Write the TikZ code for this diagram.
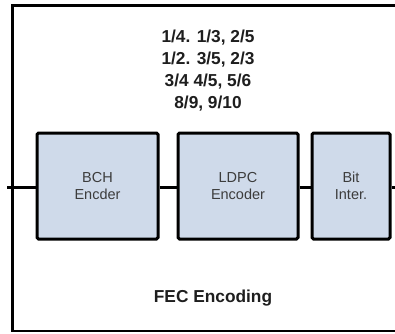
\documentclass[tikz,border=0pt]{standalone}
\usepackage{fontspec}
\setmainfont{Liberation Sans}
\definecolor{boxfill}{HTML}{CFDAEA}
\definecolor{boxtext}{HTML}{3C3C3C}
\definecolor{headtext}{HTML}{1E1E1E}
\begin{document}
\begin{tikzpicture}[x=1pt,y=-1pt,
  block/.style={draw=black,line width=3pt,fill=boxfill,rounded corners=1.5pt,
    minimum height=106pt,inner sep=0pt,align=center,text=boxtext,
    font=\fontsize{14.5}{17}\selectfont},
  link/.style={line width=3pt,draw=black},
  heading/.style={align=center,text=headtext,font=\bfseries\fontsize{17.3}{22}\selectfont}]
\useasboundingbox (0,0) rectangle (395,333);
\begin{scope}
\clip (0,0) rectangle (395,333);
% enclosing FEC frame, open to the right
\draw[line width=2.8pt] (420,5.5) -- (12.5,5.5) -- (12.5,331) -- (420,331);
% processing blocks
\node[block,minimum width=121pt] (bch) at (97.5,186) {BCH\\Encder};
\node[block,minimum width=120pt] (ldpc) at (238,186) {LDPC\\Encoder};
\node[block,minimum width=78pt] (bit) at (351,186) {Bit\\Inter.};
\coordinate (in) at (7,187);
\coordinate (out) at (400,187);
% signal path
\draw[link] (in) -- (in -| bch.west);
\draw[link] (bch.east |- in) -- (ldpc.west |- in);
\draw[link] (ldpc.east |- in) -- (bit.west |- in);
\draw[link] (bit.east |- out) -- (out);
% labels
\node[heading] (rates) at (208,71) {1/4. 1/3, 2/5\\1/2. 3/5, 2/3\\3/4 4/5, 5/6\\8/9, 9/10};
\node[heading] (title) at (213,298) {FEC Encoding};
\end{scope}
\end{tikzpicture}
\end{document}
